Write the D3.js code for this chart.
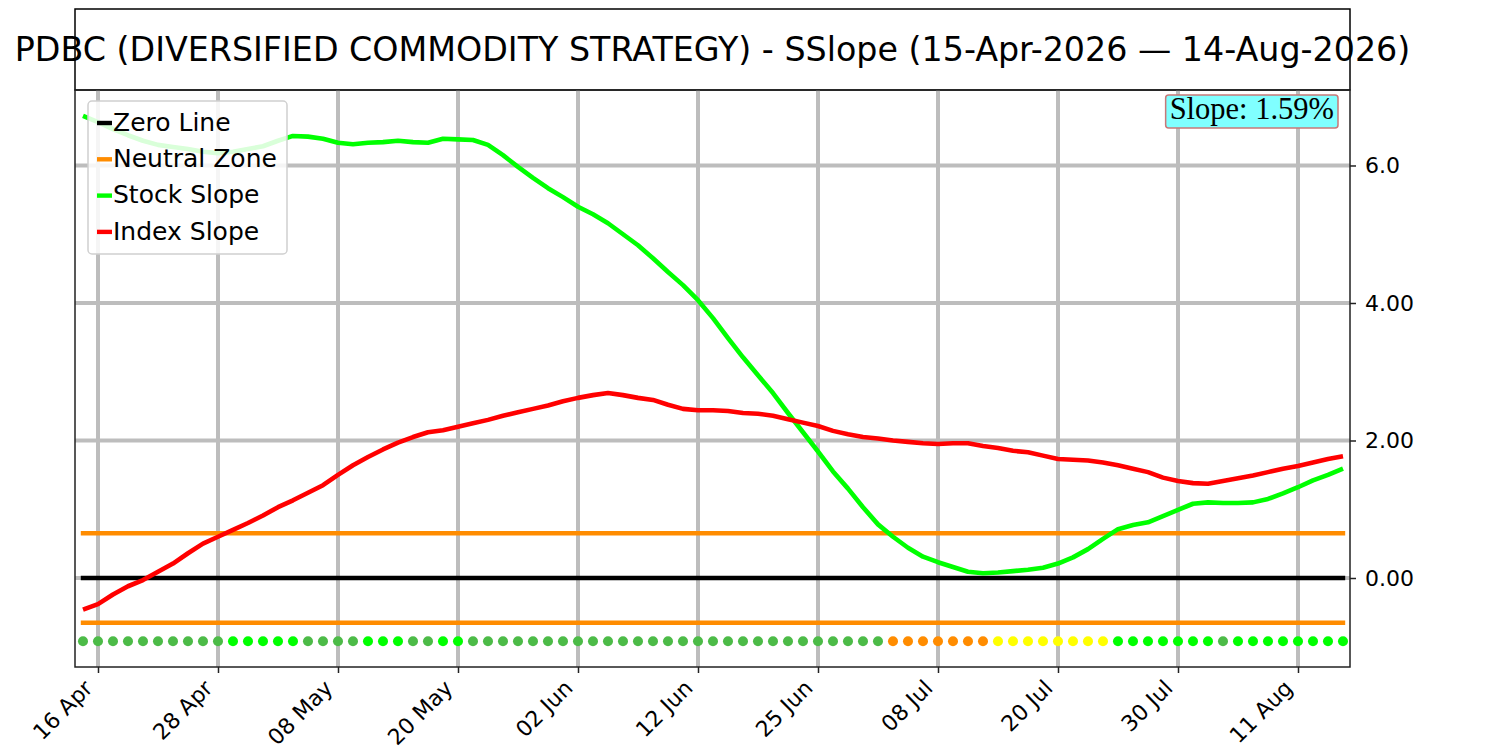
<!DOCTYPE html>
<html>
<head>
<meta charset="utf-8">
<script src="https://cdn.jsdelivr.net/npm/d3@7"></script>
<style>
  body { margin: 0; background: #fff; }
  svg { display: block; }
</style>
</head>
<body>
<svg id="chart" width="1500" height="750"></svg>
<script>
// data

let stockSlope = [
    6.72, 6.63, 6.53, 6.44, 6.36, 6.30, 6.27, 6.24, 6.20, 6.18,
    6.20, 6.24, 6.28, 6.36, 6.43, 6.42, 6.39, 6.33, 6.31, 6.33,
    6.34, 6.36, 6.34, 6.33, 6.39, 6.38, 6.37, 6.30, 6.15, 5.98,
    5.82, 5.67, 5.54, 5.40, 5.29, 5.16, 5.00, 4.84, 4.65, 4.45,
    4.26, 4.04, 3.78, 3.49, 3.21, 2.95, 2.69, 2.40, 2.12, 1.84,
    1.55, 1.30, 1.03, 0.78, 0.60, 0.44, 0.31, 0.23, 0.16, 0.09,
    0.07, 0.08, 0.10, 0.12, 0.15, 0.21, 0.30, 0.42, 0.57, 0.71,
    0.77, 0.81, 0.90, 0.99, 1.08, 1.10, 1.09, 1.09, 1.10, 1.15,
    1.23, 1.32, 1.42, 1.50, 1.59,
];

let indexSlope = [
    -0.46, -0.38, -0.24, -0.12, -0.03, 0.09, 0.21, 0.36, 0.50, 0.60,
    0.70, 0.80, 0.91, 1.03, 1.13, 1.24, 1.35, 1.50, 1.64, 1.76,
    1.87, 1.97, 2.05, 2.12, 2.15, 2.20, 2.25, 2.30, 2.36, 2.41,
    2.46, 2.51, 2.57, 2.62, 2.66, 2.69, 2.66, 2.62, 2.59, 2.52,
    2.46, 2.44, 2.44, 2.43, 2.40, 2.39, 2.36, 2.31, 2.26, 2.21,
    2.14, 2.09, 2.05, 2.03, 2.00, 1.98, 1.96, 1.95, 1.96, 1.96,
    1.92, 1.89, 1.85, 1.83, 1.78, 1.73, 1.72, 1.71, 1.68, 1.64,
    1.59, 1.54, 1.46, 1.41, 1.38, 1.37, 1.41, 1.45, 1.49, 1.54,
    1.59, 1.63, 1.68, 1.73, 1.77,
];

// state dots: m = weak green, g = strong green, o = orange, y = yellow
let dotStates = (
    'mmmmmmmmmm' + 'ggggg' + 'mmmm' + 'ggg' + 'mm' + 'gg' +
    'mmmmmmmmmmmmmmmmmmmmmmmmmmmm' + 'ooooooo' + 'yyyyyyyy' +
    'ggggggg' + 'm' + 'gggggggg'
).split('');

let tickLabels = ['16 Apr', '28 Apr', '08 May', '20 May', '02 Jun', '12 Jun',
    '25 Jun', '08 Jul', '20 Jul', '30 Jul', '11 Aug'];
let tickIndex = tickLabels.map((d, i) => 1 + i * 8);

let yTicks = [0, 2, 4, 6];
let yTickLabels = ['0.00', '2.00', '4.00', '6.0'];

let neutralBand = 0.65;
let dotLevel = -0.92;
let slopeText = 'Slope: 1.59%';
let title = 'PDBC (DIVERSIFIED COMMODITY STRATEGY) - SSlope (15-Apr-2026 \u2014 14-Aug-2026)';

let legendItems = [
    { name: 'Zero Line', color: '#000000' },
    { name: 'Neutral Zone', color: '#ff8c00' },
    { name: 'Stock Slope', color: '#00ff00' },
    { name: 'Index Slope', color: '#ff0000' },
];

let dotColors = { m: '#4cbb47', g: '#00ff00', o: '#ff8c00', y: '#ffff00' };

// layout

let plotL = 75, plotR = 1350, plotT = 90, plotB = 667;
let titleT = 9;
let sans = '"DejaVu Sans", sans-serif';

let svg = d3.select('#chart');

let x = d3.scaleLinear()
    .domain([-0.533, stockSlope.length - 1 + 0.467])
    .range([plotL, plotR]);

let y = d3.scaleLinear()
    .domain([-1.2945, 7.098])
    .range([plotB, plotT]);

let lastIdx = stockSlope.length - 1;

// title box

svg.append('rect')
    .attr('x', plotL)
    .attr('y', titleT)
    .attr('width', plotR - plotL)
    .attr('height', plotT - titleT)
    .attr('fill', 'none')
    .attr('stroke', '#000')
    .attr('stroke-width', 1.5);

svg.append('text')
    .attr('x', (plotL + plotR) / 2)
    .attr('y', (titleT + plotT) / 2)
    .attr('dy', '0.345em')
    .attr('text-anchor', 'middle')
    .style('font-family', sans)
    .style('font-size', '33.3px')
    .text(title);

// grid

let grid = svg.append('g');

grid.selectAll('.vgrid')
    .data(tickIndex)
    .enter()
    .append('line')
    .attr('x1', (d) => x(d))
    .attr('x2', (d) => x(d))
    .attr('y1', plotT)
    .attr('y2', plotB)
    .attr('stroke', '#bdbdbd')
    .attr('stroke-width', 4);

grid.selectAll('.hgrid')
    .data(yTicks)
    .enter()
    .append('line')
    .attr('x1', plotL)
    .attr('x2', plotR)
    .attr('y1', (d) => y(d))
    .attr('y2', (d) => y(d))
    .attr('stroke', '#bdbdbd')
    .attr('stroke-width', 4);

// reference lines

let refLines = [
    { v: 0, color: '#000000' },
    { v: neutralBand, color: '#ff8c00' },
    { v: -neutralBand, color: '#ff8c00' },
];

svg.selectAll('.ref')
    .data(refLines)
    .enter()
    .append('line')
    .attr('x1', x(0))
    .attr('x2', x(lastIdx))
    .attr('y1', (d) => y(d.v))
    .attr('y2', (d) => y(d.v))
    .attr('stroke', (d) => d.color)
    .attr('stroke-width', 4.4)
    .attr('stroke-linecap', 'square');

// state dots

svg.selectAll('.dot')
    .data(dotStates)
    .enter()
    .append('circle')
    .attr('cx', (d, i) => x(i))
    .attr('cy', y(dotLevel))
    .attr('r', 5)
    .attr('fill', (d) => dotColors[d]);

// slope lines

let line = d3.line()
    .x((d, i) => x(i))
    .y((d) => y(d));

svg.append('path')
    .datum(stockSlope)
    .attr('d', line)
    .attr('fill', 'none')
    .attr('stroke', '#00ff00')
    .attr('stroke-width', 4.6)
    .attr('stroke-linejoin', 'round');

svg.append('path')
    .datum(indexSlope)
    .attr('d', line)
    .attr('fill', 'none')
    .attr('stroke', '#ff0000')
    .attr('stroke-width', 4.6)
    .attr('stroke-linejoin', 'round');

// axes

let yAxis = svg.append('g')
    .attr('transform', `translate(${plotR},0)`)
    .call(d3.axisRight(y)
        .tickValues(yTicks)
        .tickFormat((d, i) => yTickLabels[i])
        .tickSize(6)
        .tickPadding(9));
yAxis.select('.domain').remove();

let xAxis = svg.append('g')
    .attr('transform', `translate(0,${plotB})`)
    .call(d3.axisBottom(x)
        .tickValues(tickIndex)
        .tickFormat((d, i) => tickLabels[i])
        .tickSize(6));
xAxis.select('.domain').remove();

[xAxis, yAxis].forEach((ax) => {
    ax.attr('font-size', 22).attr('font-family', sans);
    ax.selectAll('line')
        .attr('stroke', '#222')
        .attr('stroke-width', 1.5);
    ax.selectAll('text')
        .attr('fill', '#000')
        .attr('font-size', 22)
        .style('font-family', sans)
        .style('font-size', '22px');
});

xAxis.selectAll('text')
    .attr('text-anchor', 'end')
    .attr('y', 0)
    .attr('dy', 0)
    .attr('transform', 'translate(-4.5,22.5) rotate(-45)');

// frame

svg.append('rect')
    .attr('x', plotL)
    .attr('y', plotT)
    .attr('width', plotR - plotL)
    .attr('height', plotB - plotT)
    .attr('fill', 'none')
    .attr('stroke', '#222')
    .attr('stroke-width', 1.5);

// legend

let legend = svg.append('g')
    .attr('transform', 'translate(88,101)');

legend.append('rect')
    .attr('width', 199)
    .attr('height', 153)
    .attr('rx', 4)
    .attr('fill', 'rgba(255,255,255,0.85)')
    .attr('stroke', '#d0d0d0')
    .attr('stroke-width', 1.5);

let legendRows = legend.selectAll('.row')
    .data(legendItems)
    .enter()
    .append('g')
    .attr('transform', (d, i) => `translate(0,${22 + i * 36.3})`);

legendRows.append('line')
    .attr('x1', 9)
    .attr('x2', 24)
    .attr('stroke', (d) => d.color)
    .attr('stroke-width', 4.4);

legendRows.append('text')
    .attr('x', 25)
    .attr('dy', '0.31em')
    .style('font-family', sans)
    .style('font-size', '25px')
    .text((d) => d.name);

// slope badge

let badge = svg.append('g');

let badgeText = badge.append('text')
    .attr('x', 1334)
    .attr('y', 111)
    .attr('dy', '0.27em')
    .attr('text-anchor', 'end')
    .style('font-family', '"Liberation Serif", "Times New Roman", serif')
    .style('font-size', '30.5px')
    .text(slopeText);

let bb = badgeText.node().getBBox();
badge.insert('rect', 'text')
    .attr('x', bb.x - 4)
    .attr('y', 95)
    .attr('width', bb.width + 8)
    .attr('height', 33)
    .attr('rx', 3)
    .attr('fill', '#80ffff')
    .attr('stroke', '#c87878')
    .attr('stroke-width', 1.5);
</script>
</body>
</html>
